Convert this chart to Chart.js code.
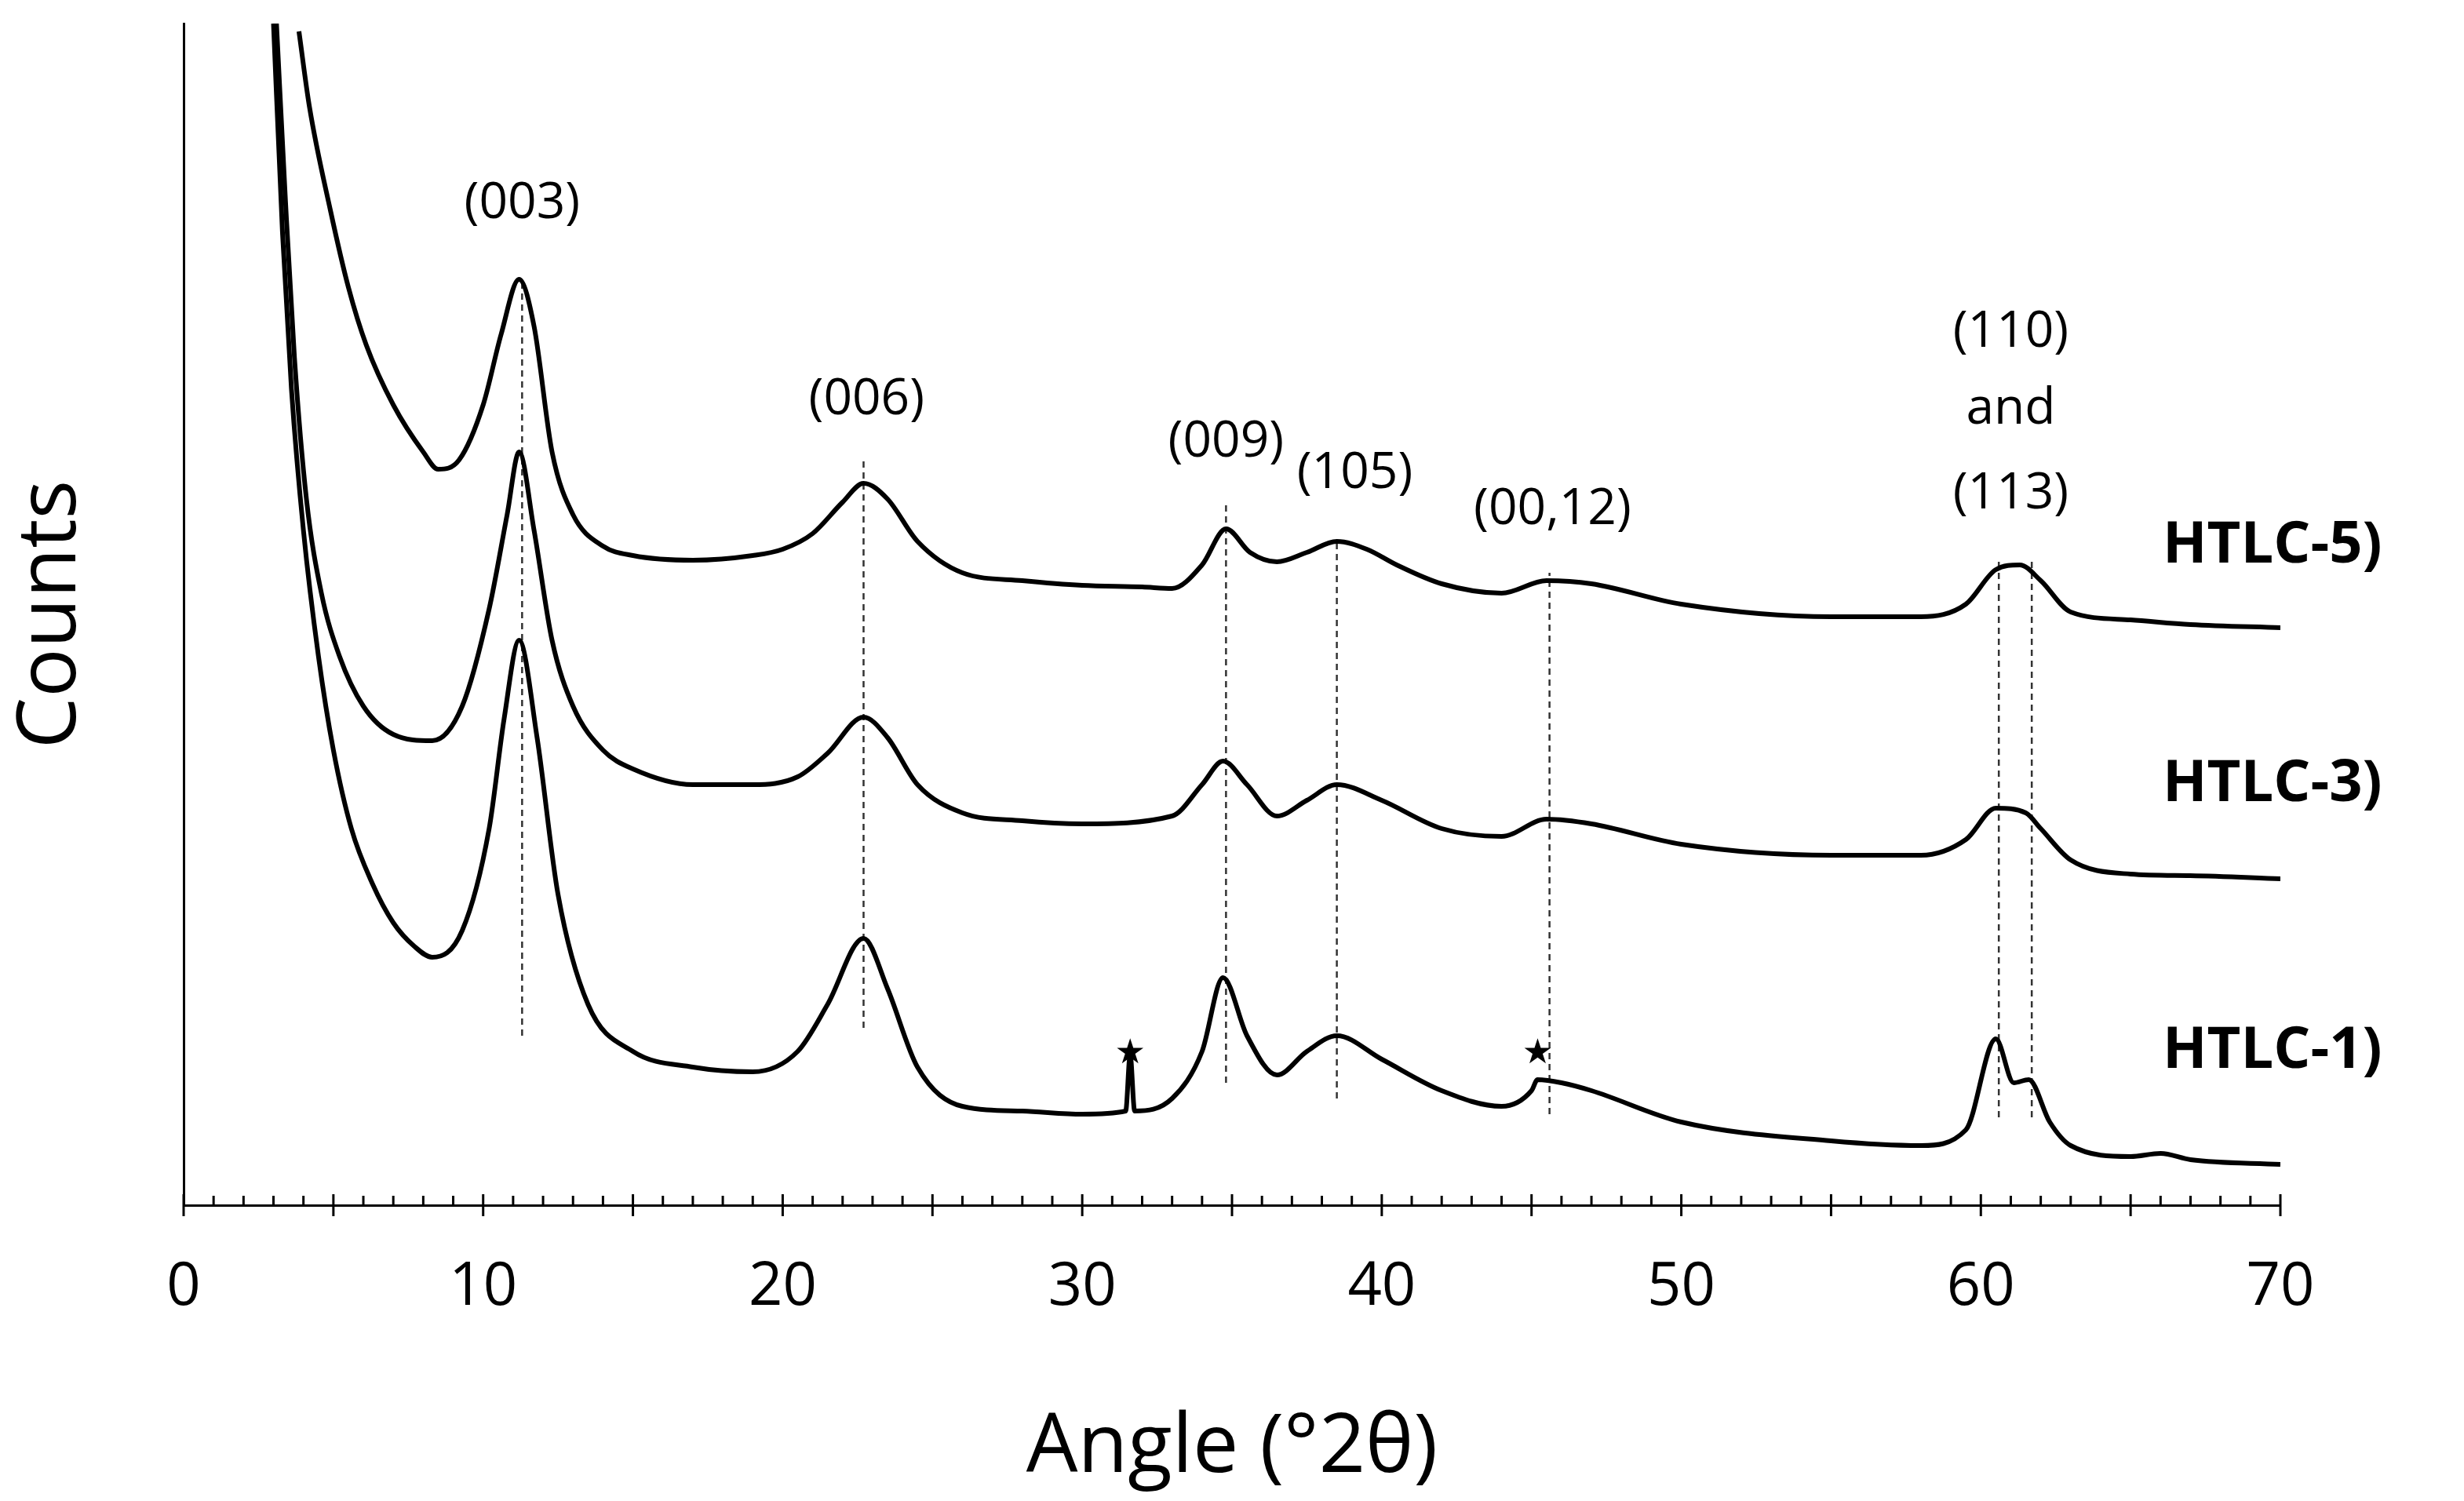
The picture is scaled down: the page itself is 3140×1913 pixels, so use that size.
<!DOCTYPE html>
<html><head><meta charset="utf-8">
<script src="https://cdn.jsdelivr.net/npm/chart.js@4"></script>
<style>html,body{margin:0;background:#fff}#w{width:3140px;height:1913px}</style>
</head><body><div id="w"><canvas id="c"></canvas></div>
<script>
const FONT = '"Open Sans", "Noto Sans", sans-serif';
const xTickLabels = [0,10,20,30,40,50,60,70];
// angle (°2θ) and relative counts for each pattern
const angles5 = [3.85,4.2,4.9,5.5,6.1,7,8,8.5,9.2,10,10.6,11.2,11.7,12.3,13,14,15,17,19,20,21,22,22.7,23.5,24.5,26,28,30,32,33,34,34.8,35.6,36.5,37.5,38.5,39.5,40.5,42,44,45.5,47,50,55,58,59.5,60.5,61.3,62,63,65,67,70];
const counts5 = [748,700,634,585,548,510,480,469,475,510,555,590,560,480,440,420,414,411,414,418,428,448,460,450,423,403,398,395,394,393,408,431,416,410,416,423,418,408,396,390,398,396,383,375,375,383,405,408,398,378,373,370,368];
const angles3 = [3.1,3.4,3.7,4.1,4.6,5.2,6,7,8.3,9.3,10.2,10.8,11.2,11.7,12.3,13,14,15,17,19,20.5,21.5,22.7,23.5,24.5,26,28,30,33,34,34.7,35.5,36.5,37.5,38.5,40,42,44,45.5,47,50,55,58,59.5,60.5,61.5,62,63,65,67,70];
const counts3 = [753,640,540,450,390,350,318,300,296,318,380,440,480,430,360,318,290,278,268,268,273,288,311,298,268,250,245,243,248,268,283,268,248,258,268,258,240,235,246,243,230,223,223,233,253,250,240,220,211,210,208];
const angles1 = [3.0,3.3,3.6,4,4.5,5,5.6,6.3,7,7.7,8.3,9.3,10.2,10.7,11.2,11.8,12.5,13.5,15,17,19,20.5,21.5,22.7,23.5,24.5,26,28,30,31.45,31.6,31.75,33,34,34.7,35.5,36.5,37.5,38.5,40,42,44,45,45.2,46,47,50,55,58,59.5,60.5,61.1,61.6,62.3,63,65,66,67,70];
const counts1 = [753,620,520,430,350,290,240,205,180,165,158,175,240,310,360,298,198,128,98,88,85,98,128,170,138,88,63,60,58,60,96,60,68,98,145,108,83,98,108,93,73,63,73,80,78,73,53,41,38,48,106,78,80,53,38,31,33,29,26];
const refLines = [[11.3,178,660],[22.7,293,655],[34.8,322,690],[38.5,343,700],[45.6,365,710],[60.6,355,712],[61.7,355,712]];
const peakLabels = [["(003)",11.3,130],["(006)",22.8,255],["(009)",34.8,282],["(105)",39.1,302],["(00,12)",45.7,325],["(110)",61,212],["and",61,261],["(113)",61,315]];
const seriesNames = [["HTLC-5)",348],["HTLC-3)",500],["HTLC-1)",670]];
const stars = [[31.6,672],[45.2,672]];
const BOT = 768; // pixel-to-value reference (display scale)

function pts(a,c){return a.map((x,i)=>({x:x,y:c[i]}));}
const datasets = [
 {data:pts(angles5,counts5)},{data:pts(angles3,counts3)},{data:pts(angles1,counts1)}
].map(d=>Object.assign(d,{borderColor:'#000',borderWidth:6,pointRadius:0,showLine:true,cubicInterpolationMode:'monotone'}));
refLines.forEach(r=>datasets.push({data:[{x:r[0],y:BOT-r[2]},{x:r[0],y:BOT-r[1]}],borderColor:'#333',borderWidth:2.5,borderDash:[8,6],pointRadius:0,showLine:true}));

const deco = {id:'deco',afterDatasetsDraw(ch){
  const {ctx,scales:{x,y}} = ch;
  ctx.save();ctx.strokeStyle='#000';ctx.lineWidth=3;
  const yb = y.getPixelForValue(0);
  for(let v=0;v<=70;v++){
    const px=x.getPixelForValue(v);ctx.beginPath();
    if(v%5===0){ctx.moveTo(px,yb-14);ctx.lineTo(px,yb+14);}else{ctx.moveTo(px,yb-12);ctx.lineTo(px,yb);}
    ctx.stroke();
  }
  ctx.fillStyle='#000';ctx.textAlign='center';ctx.textBaseline='middle';
  ctx.font='64px '+FONT;
  peakLabels.forEach(p=>ctx.fillText(p[0],x.getPixelForValue(p[1]),y.getPixelForValue(BOT-p[2])));
  ctx.font='bold 74px '+FONT;ctx.textAlign='left';
  seriesNames.forEach(s=>ctx.fillText(s[0],2756,y.getPixelForValue(BOT-s[1])));
  ctx.font='44px DejaVu Sans';ctx.textAlign='center';
  stars.forEach(s=>ctx.fillText('★',x.getPixelForValue(s[0]),y.getPixelForValue(BOT-s[1])));
  ctx.restore();
}};

new Chart(document.getElementById('c'),{type:'scatter',data:{datasets},plugins:[deco],
 options:{responsive:true,maintainAspectRatio:false,animation:false,
  layout:{padding:{left:0,right:234,top:30,bottom:0}},
  plugins:{legend:{display:false},tooltip:{enabled:false}},
  scales:{
   x:{type:'linear',min:0,max:70,grid:{display:false},border:{color:'#000',width:3},
      afterBuildTicks(s){s.ticks=xTickLabels.map(v=>({value:v}));},
      ticks:{color:'#000',font:{size:76,family:FONT},padding:52},
      title:{display:true,text:'Angle (°2θ)',color:'#000',font:{size:104,family:FONT},padding:{top:20}},
      afterFit(s){s.height=1913-1536;}},
   y:{min:0,max:753,grid:{display:false},border:{color:'#000',width:3},ticks:{display:false},
      title:{display:true,text:'Counts',color:'#000',font:{size:104,family:FONT},padding:{bottom:30}},
      afterFit(s){s.width=234;}}
  }}});
</script></body></html>
